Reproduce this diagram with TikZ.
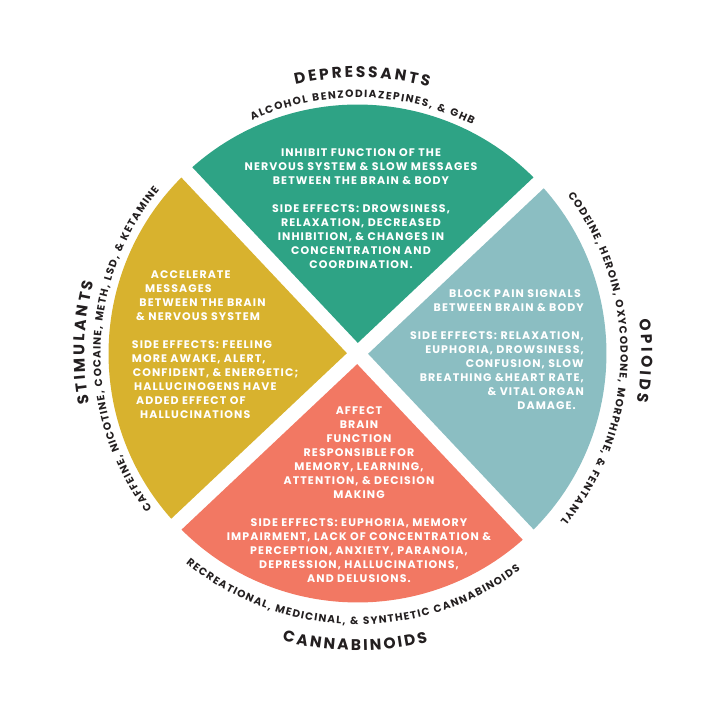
\documentclass[tikz,border=0pt]{standalone}
\usepackage{fontspec}
\setmainfont{Poppins}
\newfontfamily\bodyfont{Poppins}[LetterSpace=10]
\usetikzlibrary{decorations.text}
\definecolor{depgreen}{HTML}{2EA385}
\definecolor{opiblue}{HTML}{8BBEC2}
\definecolor{canred}{HTML}{F27863}
\definecolor{stimyellow}{HTML}{D8B22E}
\definecolor{inkdark}{HTML}{231F20}
\newcommand\ringtitle{\color{inkdark}\bfseries\fontsize{15.5}{18}\selectfont}
\newcommand\ringsub{\color{inkdark}\bfseries\fontsize{10.5}{12}\selectfont}
\begin{document}
\begin{tikzpicture}[x=1pt,y=1pt,
    body/.style={text=white,font=\bodyfont\bfseries\fontsize{11}{14}\selectfont,inner sep=0pt},
    arctext/.style={decorate,decoration={text along path,text align=fit to path,text={#1}}}]
  \useasboundingbox (-357.5,-366.5) rectangle (362.5,353.5);
  \def\R{249} \def\gap{7.5} \def\rot{-1.7}
  \pgfmathsetmacro\tip{\gap*sqrt(2)}
  \pgfmathsetmacro\dd{asin(\gap/\R)}
  % four quarters
  \foreach \a/\col in {90/depgreen,0/opiblue,270/canred,180/stimyellow}
    \fill[\col,rotate=\rot] (\a:\tip) -- (\a-45+\dd:\R)
      arc[start angle=\a-45+\dd,end angle=\a+45-\dd,radius=\R] -- cycle;
  % texts inside
  \node[body,align=center] (dep) at (3.5,145.2) {INHIBIT FUNCTION OF THE\\
    NERVOUS SYSTEM \& SLOW MESSAGES\\ BETWEEN THE BRAIN \& BODY\\[14pt]
    SIDE EFFECTS: DROWSINESS,\\ RELAXATION, DECREASED\\
    INHIBITION, \& CHANGES IN\\ CONCENTRATION AND\\ COORDINATION.};
  \node[body,align=left,anchor=west] (stim) at (-225.8,8.5) {\hspace*{19pt}ACCELERATE\\
    \hspace*{13.3pt}MESSAGES\\ \hspace*{7.6pt}BETWEEN THE BRAIN\\
    \hspace*{4.3pt}\& NERVOUS SYSTEM\\[14pt]
    SIDE EFFECTS: FEELING\\ MORE AWAKE, ALERT,\\ \hspace*{1pt}CONFIDENT, \& ENERGETIC;\\
    \hspace*{2.3pt}HALLUCINOGENS HAVE\\ \hspace*{4.3pt}ADDED EFFECT OF\\
    \hspace*{8.3pt}HALLUCINATIONS};
  \node[body,align=right,anchor=east] (opi) at (226.5,4) {BLOCK PAIN SIGNALS\hspace*{3pt}\\
    BETWEEN BRAIN \& BODY\\[14pt] SIDE EFFECTS: RELAXATION,\hspace*{1pt}\\
    EUPHORIA, DROWSINESS,\\ CONFUSION, SLOW\\ BREATHING \&HEART RATE,\hspace*{3pt}\\
    \& VITAL ORGAN\hspace*{4pt}\\ DAMAGE.\hspace*{8pt}};
  \node[body,align=center] (can) at (1.5,-141.2) {AFFECT\\ BRAIN\\ FUNCTION\\
    RESPONSIBLE FOR\\ MEMORY, LEARNING,\\ ATTENTION, \& DECISION\\ MAKING\\[14pt]
    SIDE EFFECTS: EUPHORIA, MEMORY\\ IMPAIRMENT, LACK OF CONCENTRATION \&\\
    PERCEPTION, ANXIETY, PARANOIA,\\ DEPRESSION, HALLUCINATIONS,\\ AND DELUSIONS.};
  % titles round the ring
  \path[arctext={|\ringtitle|DEPRESSANTS}] (103:276) arc[start angle=103,end angle=75,radius=276];
  \path[arctext={|\ringsub|ALCOHOL BENZODIAZEPINES, {\&} GHB}]
    (114.3:256) arc[start angle=114.3,end angle=63.3,radius=256];
  \path[arctext={|\ringtitle|OPIOIDS}] (6.9:284) arc[start angle=6.9,end angle=-9.8,radius=284];
  \path[arctext={|\ringsub|CODEINE, HEROIN, OXYCODONE, MORPHINE, {\&} FENTANYL}]
    (37:263) arc[start angle=37,end angle=-39.5,radius=263];
  \path[arctext={|\ringtitle|CANNABINOIDS}] (255.3:297) arc[start angle=255.3,end angle=283.7,radius=297];
  \path[arctext={|\ringsub|RECREATIONAL, MEDICINAL, {\&} SYNTHETIC CANNABINOIDS}]
    (230.7:271) arc[start angle=230.7,end angle=306.9,radius=271];
  \path[arctext={|\ringtitle|STIMULANTS}] (190.6:273) arc[start angle=190.6,end angle=164.8,radius=273];
  \path[arctext={|\ringsub|CAFFEINE, NICOTINE, COCAINE, METH, LSD, {\&} KETAMINE}]
    (217:257) arc[start angle=217,end angle=140.5,radius=257];
\end{tikzpicture}
\end{document}
